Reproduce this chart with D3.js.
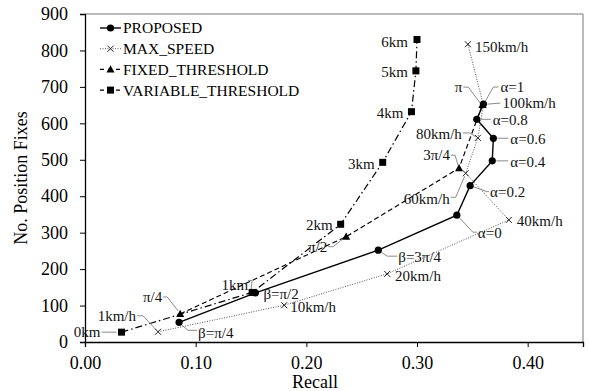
<!DOCTYPE html>
<html>
<head>
<meta charset="utf-8">
<script src="https://cdn.jsdelivr.net/npm/d3@7/dist/d3.min.js"></script>
<style>
  html, body { margin: 0; padding: 0; background: #fff; }
  svg { display: block; }
  svg text { font-family: "Liberation Serif", "Times New Roman", serif; }
</style>
</head>
<body>
<svg id="chart" width="589" height="391"></svg>
<script>
// ---- data ----
const proposedLabels = ["β=π/4", "β=π/2", "β=3π/4", "α=0", "α=0.2", "α=0.4", "α=0.6", "α=0.8", "α=1"];
const proposedRecall = [0.085, 0.154, 0.265, 0.336, 0.348, 0.368, 0.369, 0.354, 0.360];
const proposedFixes  = [54, 135, 252, 348, 429, 497, 559, 611, 653];

const maxSpeedLabels = ["1km/h", "10km/h", "20km/h", "40km/h", "60km/h", "80km/h", "100km/h", "150km/h"];
const maxSpeedRecall = [0.066, 0.180, 0.273, 0.383, 0.344, 0.355, 0.360, 0.346];
const maxSpeedFixes  = [28, 101, 187, 335, 463, 560, 650, 817];

const fixedLabels = ["π/4", "π/2", "3π/4", "π"];
const fixedRecall = [0.086, 0.236, 0.338, 0.359];
const fixedFixes  = [77, 289, 477, 650];

const variableLabels = ["0km", "1km", "2km", "3km", "4km", "5km", "6km"];
const variableRecall = [0.033, 0.151, 0.231, 0.269, 0.295, 0.299, 0.300];
const variableFixes  = [27, 136, 323, 493, 632, 744, 830];

const seriesNames = ["PROPOSED", "MAX_SPEED", "FIXED_THRESHOLD", "VARIABLE_THRESHOLD"];
const xTicks = [0, 0.1, 0.2, 0.3, 0.4];
const yTicks = [0, 100, 200, 300, 400, 500, 600, 700, 800, 900];

// ---- label placement: text offset from the point, anchor, leader elbow points ----
const labelLayout = {
  "β=π/4":  { dx: 19, dy: 10, a: "start", lead: [[3, 3], [9, 8], [18, 8]] },
  "β=π/2":  { dx: 8, dy: 1, a: "start", lead: [] },
  "β=3π/4": { dx: 20, dy: 7, a: "start", lead: [[3, 2], [9, 6], [19, 6]] },
  "α=0":    { dx: 21, dy: 18, a: "start", lead: [[3, 3], [16, 17], [20, 17]] },
  "α=0.2":  { dx: 20, dy: 6, a: "start", lead: [[3, 1], [17, 6], [19, 6]] },
  "α=0.4":  { dx: 18, dy: 1, a: "start", lead: [[4, 0], [16, 0]] },
  "α=0.6":  { dx: 17, dy: 0, a: "start", lead: [[4, 0], [15, 0]] },
  "α=0.8":  { dx: 16, dy: 0, a: "start", lead: [[4, 0], [14, 0]] },
  "α=1":    { dx: 17, dy: -17, a: "start", lead: [[2, -3], [10, -17], [15, -17]] },

  "1km/h":   { dx: -22, dy: -16, a: "end", lead: [[-2, -2], [-15, -16], [-21, -16]] },
  "10km/h":  { dx: 6, dy: 2, a: "start", lead: [] },
  "20km/h":  { dx: 8, dy: 2, a: "start", lead: [] },
  "40km/h":  { dx: 8, dy: 1, a: "start", lead: [] },
  "60km/h":  { dx: -16, dy: 25, a: "end", lead: [[-1, 3], [-10, 24], [-15, 24]] },
  "80km/h":  { dx: -16, dy: -4, a: "end", lead: [[-2, -1], [-8, -5], [-15, -5]] },
  "100km/h": { dx: 19, dy: -2, a: "start", lead: [[4, -1], [17, -2]] },
  "150km/h": { dx: 7, dy: 3, a: "start", lead: [] },

  "π/4":  { dx: -18, dy: -17, a: "end", lead: [[-2, -3], [-13, -17], [-17, -17]] },
  "π/2":  { dx: -19, dy: 10, a: "end", lead: [[-3, 2], [-13, 10], [-18, 10]] },
  "3π/4": { dx: -9, dy: -13, a: "end", lead: [[-1, -3], [-4, -13], [-8, -13]] },
  "π":    { dx: -20, dy: -18, a: "end", lead: [[-2, -2], [-14, -18], [-19, -18]] },

  "0km": { dx: -21, dy: 0, a: "end", lead: [[-5, 0], [-20, 0]] },
  "1km": { dx: -4, dy: -8, a: "end", lead: [[-1, -3], [0, -12], [-4, -12]] },
  "2km": { dx: -8, dy: 0, a: "end", lead: [] },
  "3km": { dx: -8, dy: 1, a: "end", lead: [] },
  "4km": { dx: -8, dy: 1, a: "end", lead: [] },
  "5km": { dx: -8, dy: 1, a: "end", lead: [] },
  "6km": { dx: -9, dy: 2, a: "end", lead: [] }
};

// ---- chart ----
const svg = d3.select("#chart");
const plotLeft = 85, plotRight = 583, plotTop = 14, plotBottom = 342;
const serif = "Liberation Serif, Times New Roman, serif";

const x = d3.scaleLinear().domain([0, 0.45]).range([plotLeft, plotRight]);
const y = d3.scaleLinear().domain([0, 900]).range([plotBottom, plotTop]);

const zip = (labels, xs, ys) => labels.map((l, i) => ({ label: l, r: xs[i], v: ys[i] }));

const series = [
  { name: seriesNames[0], pts: zip(proposedLabels, proposedRecall, proposedFixes),
    marker: "circle", stroke: "#000", width: 1.4, dash: null },
  { name: seriesNames[1], pts: zip(maxSpeedLabels, maxSpeedRecall, maxSpeedFixes),
    marker: "cross", stroke: "#555", width: 1, dash: "1,1.5" },
  { name: seriesNames[2], pts: zip(fixedLabels, fixedRecall, fixedFixes),
    marker: "triangle", stroke: "#000", width: 1.2, dash: "5,3" },
  { name: seriesNames[3], pts: zip(variableLabels, variableRecall, variableFixes),
    marker: "square", stroke: "#000", width: 1.2, dash: "7,3,1.5,3" }
];

// frame (top and right)
svg.append("path")
  .attr("d", `M${plotLeft},${plotTop}H${plotRight}V${plotBottom}`)
  .attr("fill", "none").attr("stroke", "#777").attr("stroke-width", 1);

// axes
const xAxis = svg.append("g").attr("transform", `translate(0,${plotBottom})`)
  .call(d3.axisBottom(x).tickValues(xTicks).tickFormat(d3.format(".2f")).tickSize(5).tickPadding(9));
const yAxis = svg.append("g").attr("transform", `translate(${plotLeft},0)`)
  .call(d3.axisLeft(y).tickValues(yTicks).tickSize(5).tickPadding(12));
[xAxis, yAxis].forEach(g => {
  g.attr("font-family", serif);
  g.selectAll("text").attr("font-size", 18).attr("fill", "#000").attr("font-family", serif);
  g.selectAll("line").attr("stroke", "#000");
  g.select(".domain").attr("stroke", "#000").attr("stroke-width", 1.3);
});

svg.append("text").attr("x", 315).attr("y", 388).attr("font-family", serif)
  .attr("text-anchor", "middle").attr("font-size", 18).text("Recall");
svg.append("text").attr("font-family", serif)
  .attr("transform", `translate(27,${(plotTop + plotBottom) / 2}) rotate(-90)`)
  .attr("text-anchor", "middle").attr("font-size", 18).text("No. Position Fixes");

// marker drawing
function drawMarker(g, type, cx, cy) {
  if (type === "circle") {
    g.append("circle").attr("cx", cx).attr("cy", cy).attr("r", 3.6).attr("fill", "#000");
  } else if (type === "square") {
    g.append("rect").attr("x", cx - 3.5).attr("y", cy - 3.5).attr("width", 7).attr("height", 7).attr("fill", "#000");
  } else if (type === "triangle") {
    g.append("path").attr("d", `M${cx},${cy - 4.2}L${cx + 4},${cy + 3}L${cx - 4},${cy + 3}Z`).attr("fill", "#000");
  } else if (type === "cross") {
    g.append("path").attr("d", `M${cx - 3},${cy - 3}L${cx + 3},${cy + 3}M${cx - 3},${cy + 3}L${cx + 3},${cy - 3}`)
      .attr("stroke", "#222").attr("stroke-width", 1).attr("fill", "none");
  }
}

const line = d3.line().x(d => x(d.r)).y(d => y(d.v));

// series lines
series.forEach(s => {
  svg.append("path").datum(s.pts).attr("d", line)
    .attr("fill", "none").attr("stroke", s.stroke).attr("stroke-width", s.width)
    .attr("stroke-dasharray", s.dash);
});

// leader lines and point labels
const ann = svg.append("g");
series.forEach(s => {
  s.pts.forEach(p => {
    const L = labelLayout[p.label];
    const px = x(p.r), py = y(p.v);
    if (L.lead.length > 1) {
      ann.append("path")
        .attr("d", d3.line()(L.lead.map(o => [px + o[0], py + o[1]])))
        .attr("fill", "none").attr("stroke", "#8a8a8a").attr("stroke-width", 1);
    }
    ann.append("text").attr("x", px + L.dx).attr("y", py + L.dy).attr("dy", "0.35em")
      .attr("font-family", serif)
      .attr("text-anchor", L.a).attr("font-size", 15).attr("fill", "#111").text(p.label);
  });
});

// markers on top
const mk = svg.append("g");
series.forEach(s => s.pts.forEach(p => drawMarker(mk, s.marker, x(p.r), y(p.v))));

// legend
const leg = svg.append("g");
series.forEach((s, i) => {
  const ly = 28 + i * 20.7;
  leg.append("line").attr("x1", 100).attr("x2", 121).attr("y1", ly).attr("y2", ly)
    .attr("stroke", s.stroke).attr("stroke-width", s.width)
    .attr("stroke-dasharray", s.marker === "cross" ? "1,1.5" : (s.dash ? "4,4" : null));
  drawMarker(leg, s.marker, 110.5, ly);
  leg.append("text").attr("x", 123).attr("y", ly).attr("dy", "0.35em").attr("font-family", serif)
    .attr("font-size", 15.5).attr("fill", "#000").text(s.name);
});
</script>
</body>
</html>
